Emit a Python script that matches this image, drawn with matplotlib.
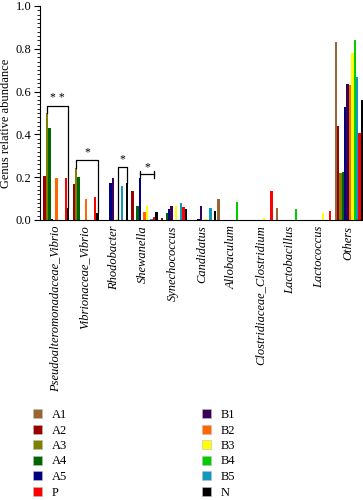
import matplotlib
matplotlib.use('Agg')
import matplotlib.pyplot as plt
import numpy as np
from matplotlib.patches import Patch
from matplotlib.ticker import MultipleLocator

categories = ['Pseudoalteromonadaceae_Vibrio', 'Vibrionaceae_Vibrio', 'Rhodobacter',
              'Shewanella', 'Synechococcus', 'Candidatus', 'Allobaculum',
              'Clostridiaceae_Clostridium', 'Lactobacillus', 'Lactococcus', 'Others']
series_names = ['A1', 'A2', 'A3', 'A4', 'A5', 'B1', 'B2', 'B3', 'B4', 'B5', 'P', 'N']

A1 = [0, 0, 0, 0, 0, 0, 0.097, 0, 0.054, 0, 0.83]
A2 = [0.207, 0.167, 0, 0.137, 0.01, 0, 0, 0, 0, 0, 0.44]
A3 = [0.50, 0.241, 0, 0, 0, 0, 0, 0, 0, 0, 0.22]
A4 = [0.431, 0.202, 0, 0.067, 0.031, 0, 0, 0, 0, 0, 0.223]
A5 = [0.005, 0, 0.174, 0.195, 0.05, 0.003, 0, 0, 0, 0, 0.53]
B1 = [0, 0, 0.195, 0, 0.067, 0.067, 0, 0, 0, 0, 0.637]
B2 = [0.198, 0.097, 0, 0.039, 0, 0, 0, 0, 0, 0, 0.632]
B3 = [0, 0, 0.006, 0.067, 0.067, 0.005, 0, 0.008, 0, 0.031, 0.779]
B4 = [0, 0, 0, 0, 0, 0, 0.083, 0, 0.051, 0, 0.843]
B5 = [0, 0, 0.16, 0.005, 0.078, 0.055, 0, 0, 0, 0, 0.667]
P = [0.198, 0.106, 0, 0.013, 0.059, 0, 0, 0.137, 0, 0.04, 0.405]
N = [0.055, 0.031, 0.171, 0.036, 0.051, 0.042, 0, 0, 0, 0, 0.563]

series_values = [A1, A2, A3, A4, A5, B1, B2, B3, B4, B5, P, N]
colors = ['#996633', '#990000', '#808000', '#006600', '#000080', '#3a0058',
          '#ff6600', '#ffff00', '#00cc00', '#1199bb', '#ff0000', '#000000']
legend_left = ['A1', 'A2', 'A3', 'A4', 'A5', 'P']
legend_right = ['B1', 'B2', 'B3', 'B4', 'B5', 'N']

plt.rcParams['font.family'] = ['Liberation Serif', 'DejaVu Serif']

fig = plt.figure(figsize=(3.63, 5.0), dpi=100)
ax = fig.add_axes([40/363, 280/500, 323/363, 214/500])

x = np.arange(len(categories))
w = 0.97 / 12
for k, (name, vals) in enumerate(zip(series_names, series_values)):
    ax.bar(x + (k - 5.5) * w, vals, width=w, color=colors[k], linewidth=0, label=name)

ax.set_xlim(-0.52, 10.485)
ax.set_ylim(0, 1.0)
ax.yaxis.set_major_locator(MultipleLocator(0.2))
ax.yaxis.set_minor_locator(MultipleLocator(0.02))
ax.set_yticks(np.arange(0, 1.01, 0.2))
ax.set_yticklabels([f'{v:.1f}' for v in np.arange(0, 1.01, 0.2)], fontsize=9)
ax.tick_params(axis='y', which='major', length=4, width=0.8, pad=2)
ax.tick_params(axis='y', which='minor', length=2, width=0.6)
ax.set_xticks(x)
ax.set_xticklabels(categories, rotation=90, fontsize=9, style='italic', va='top', ha='center')
ax.tick_params(axis='x', length=0, pad=4)
ax.set_ylabel('Genus relative abundance', fontsize=9)
ax.yaxis.set_label_coords(-0.086, 0.45)
for s in ['top', 'right']:
    ax.spines[s].set_visible(False)
ax.spines['left'].set_linewidth(0.8)
ax.spines['bottom'].set_linewidth(0.8)


def bx(g, k):
    return g + (k - 5.5) * w

lw = 0.9
# bracket group 0: A3 to N
ax.plot([bx(0, 2), bx(0, 2), bx(0, 11), bx(0, 11)], [A3[0], 0.533, 0.533, N[0]], color='k', lw=lw)
ax.text((bx(0, 2) + bx(0, 11)) / 2, 0.54, '* *', ha='center', va='bottom', fontsize=8.5)
# bracket group 1: A3 to N
ax.plot([bx(1, 2), bx(1, 2), bx(1, 11), bx(1, 11)], [A3[1], 0.28, 0.28, N[1]], color='k', lw=lw)
ax.text((bx(1, 2) + bx(1, 11)) / 2, 0.287, '*', ha='center', va='bottom', fontsize=8.5)
# bracket group 2: B3 to N
ax.plot([bx(2, 7), bx(2, 7), bx(2, 11), bx(2, 11)], [B3[2], 0.25, 0.25, N[2]], color='k', lw=lw)
ax.text((bx(2, 7) + bx(2, 11)) / 2, 0.257, '*', ha='center', va='bottom', fontsize=8.5)
# bracket group 3: A5 to P (I-beam)
ax.plot([bx(3, 4), bx(3, 10)], [0.213, 0.213], color='k', lw=lw)
ax.plot([bx(3, 4), bx(3, 4)], [A5[3], 0.228], color='k', lw=lw)
ax.plot([bx(3, 10), bx(3, 10)], [0.196, 0.230], color='k', lw=lw)
ax.text((bx(3, 4) + bx(3, 10)) / 2, 0.22, '*', ha='center', va='bottom', fontsize=8.5)

handles_l = [Patch(facecolor=colors[series_names.index(n)], edgecolor='#bbbbbb', linewidth=0.4) for n in legend_left]
handles_r = [Patch(facecolor=colors[series_names.index(n)], edgecolor='#bbbbbb', linewidth=0.4) for n in legend_right]
kw = dict(frameon=False, fontsize=9, handlelength=0.72, handleheight=0.72,
          handletextpad=0.75, labelspacing=0.28, borderpad=0, borderaxespad=0, loc='upper left')
leg1 = fig.legend(handles_l, legend_left, bbox_to_anchor=(33/363, 1 - 409/500), **kw)
leg2 = fig.legend(handles_r, legend_right, bbox_to_anchor=(202/363, 1 - 409/500), **kw)

fig.savefig('out.png', dpi=100)
